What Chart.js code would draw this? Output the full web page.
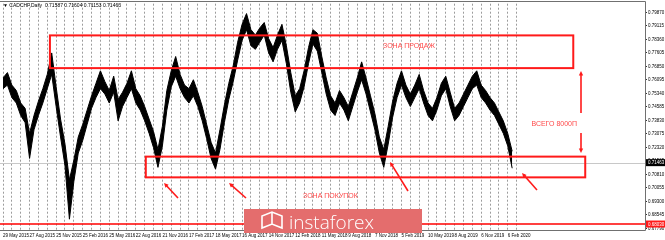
<!DOCTYPE html>
<html>
<head>
<meta charset="utf-8">
<script src="https://cdn.jsdelivr.net/npm/chart.js@4.4.1/dist/chart.umd.min.js"></script>
<style>
  html, body { margin: 0; padding: 0; background: #fff; }
  canvas { display: block; }
</style>
</head>
<body>
<canvas id="chart-1" width="665" height="240"></canvas>
<script>
// CADCHF daily at half-month steps (low / high of the trace)
var lows = [
  0.756,0.758,0.751,0.748,0.741,0.737,0.717,0.733,0.741,0.748,
  0.756,0.764,0.746,0.729,0.713,0.683,0.704,0.720,0.727,0.736,
  0.745,0.751,0.756,0.753,0.748,0.754,0.738,0.746,0.751,0.756,
  0.748,0.744,0.738,0.731,0.723,0.712,0.724,0.744,0.757,0.763,
  0.756,0.751,0.748,0.752,0.746,0.738,0.728,0.717,0.711,0.722,
  0.737,0.750,0.760,0.772,0.783,0.789,0.780,0.778,0.782,0.786,
  0.776,0.771,0.778,0.783,0.770,0.754,0.743,0.748,0.757,0.770,
  0.781,0.777,0.765,0.753,0.744,0.741,0.748,0.744,0.738,0.746,
  0.754,0.761,0.753,0.743,0.733,0.720,0.712,0.725,0.740,0.751,
  0.758,0.751,0.746,0.751,0.756,0.748,0.741,0.738,0.744,0.752,
  0.756,0.746,0.738,0.741,0.746,0.751,0.756,0.758,0.751,0.748,
  0.744,0.741,0.736,0.731,0.724,0.7115
];
var highs = [
  0.762,0.765,0.758,0.755,0.748,0.745,0.731,0.741,0.749,0.756,
  0.764,0.776,0.757,0.739,0.725,0.705,0.716,0.729,0.736,0.744,
  0.752,0.759,0.766,0.760,0.755,0.763,0.750,0.754,0.759,0.766,
  0.756,0.752,0.746,0.739,0.732,0.722,0.735,0.755,0.766,0.774,
  0.764,0.758,0.756,0.761,0.754,0.746,0.736,0.726,0.720,0.733,
  0.747,0.759,0.769,0.782,0.792,0.798,0.789,0.786,0.790,0.793,
  0.784,0.779,0.786,0.792,0.780,0.765,0.752,0.756,0.766,0.779,
  0.789,0.787,0.774,0.762,0.752,0.748,0.755,0.751,0.746,0.754,
  0.762,0.771,0.762,0.752,0.742,0.729,0.722,0.735,0.749,0.759,
  0.766,0.758,0.753,0.758,0.764,0.755,0.748,0.745,0.751,0.759,
  0.763,0.754,0.745,0.748,0.753,0.758,0.763,0.766,0.758,0.755,
  0.751,0.748,0.743,0.738,0.731,0.721
];
var dateTicks = ["29 May 2015","27 Aug 2015","25 Nov 2015","25 Feb 2016","25 May 2016","22 Aug 2016",
  "21 Nov 2016","17 Feb 2017","18 May 2017","16 Aug 2017","14 Nov 2017","12 Feb 2018","11 May 2018",
  "9 Aug 2018","7 Nov 2018","5 Feb 2019","10 May 2019","8 Aug 2019","6 Nov 2019","6 Feb 2020"];
var priceTicks = [0.79870,0.79115,0.78360,0.77605,0.76850,0.76095,0.75340,0.74585,0.73830,
  0.73075,0.72320,0.71565,0.70810,0.70055,0.69300,0.68545,0.67790];
var lastPrice = 0.71463;
var redLevel = 0.68030;
var sellZone = [0.7675, 0.7858];
var buyZone = [0.7064, 0.7180];

// half-month slots, plus empty room on the right like the terminal's chart shift
var periods = [];
var yr = 2015, mo = 5, half = 1;
for (var k = 0; k < 146; k++) {
    periods.push(yr + "-" + (mo < 10 ? "0" : "") + mo + (half ? "b" : "a"));
    if (half) { half = 0; mo++; if (mo > 12) { mo = 1; yr++; } } else { half = 1; }
}

var FONT = "Liberation Sans";

function arrow(c, x1, y1, x2, y2) {
    var a = Math.atan2(y2 - y1, x2 - x1), h = 5;
    c.beginPath();
    c.moveTo(x1, y1);
    c.lineTo(x2 - Math.cos(a) * 2, y2 - Math.sin(a) * 2);
    c.stroke();
    c.beginPath();
    c.moveTo(x2, y2);
    c.lineTo(x2 - h * Math.cos(a - 0.45), y2 - h * Math.sin(a - 0.45));
    c.lineTo(x2 - h * Math.cos(a + 0.45), y2 - h * Math.sin(a + 0.45));
    c.closePath();
    c.fill();
}

function axisBox(c, y, text, bg) {
    c.fillStyle = bg;
    c.fillRect(646, y - 3.5, 19, 7);
    c.fillStyle = "#fff";
    c.font = "4.5px " + FONT;
    c.textAlign = "left";
    c.textBaseline = "middle";
    c.fillText(text, 648, y + 0.3);
}

var overlay = {
    id: "overlay",
    beforeDatasetsDraw: function (chart) {
        var c = chart.ctx, a = chart.chartArea, ys = chart.scales.y;
        var y = Math.round(ys.getPixelForValue(lastPrice)) + 0.5;
        c.save();
        c.strokeStyle = "#c8c8c8";
        c.lineWidth = 1;
        c.beginPath(); c.moveTo(0, y); c.lineTo(a.right, y); c.stroke();
        c.restore();
    },
    afterDatasetsDraw: function (chart) {
        var c = chart.ctx, a = chart.chartArea, xs = chart.scales.x, ys = chart.scales.y;
        c.save();
        // support level
        c.strokeStyle = "#ff0000";
        c.lineWidth = 1.5;
        var yr = ys.getPixelForValue(redLevel);
        c.beginPath(); c.moveTo(0, yr); c.lineTo(a.right, yr); c.stroke();

        // zones
        c.lineWidth = 2;
        c.strokeStyle = "#ff1a1a";
        var x0 = xs.getPixelForValue(10.6), x1 = xs.getPixelForValue(128.8);
        var t = ys.getPixelForValue(sellZone[1]), b = ys.getPixelForValue(sellZone[0]);
        c.strokeRect(x0, t, x1 - x0, b - t);
        x0 = xs.getPixelForValue(32.25); x1 = xs.getPixelForValue(131.5);
        t = ys.getPixelForValue(buyZone[1]); b = ys.getPixelForValue(buyZone[0]);
        c.strokeRect(x0, t, x1 - x0, b - t);

        // arrows
        c.fillStyle = "#ff1a1a";
        c.lineWidth = 1.6;
        arrow(c, 178, 198, 164, 183);
        arrow(c, 246, 198, 229, 183);
        arrow(c, 408, 191, 390, 162);
        arrow(c, 537, 190, 522, 173);
        arrow(c, 581, 113, 581, 71);
        arrow(c, 581, 133, 581, 153);

        // captions
        c.fillStyle = "#ff4a4a";
        c.font = "7px " + FONT;
        c.textBaseline = "middle";
        c.textAlign = "left";
        c.fillText("ЗОНА ПРОДАЖ", 383, 46);
        c.fillText("ЗОНА ПОКУПОК", 303, 196);
        c.textAlign = "right";
        c.fillText("ВСЕГО 8000П", 577, 124);
        c.restore();
    },
    afterDraw: function (chart) {
        var c = chart.ctx, a = chart.chartArea, ys = chart.scales.y;
        c.save();
        // frame
        c.strokeStyle = "#707070";
        c.lineWidth = 1;
        c.beginPath();
        c.moveTo(0, 1.5); c.lineTo(645.5, 1.5); c.lineTo(645.5, 230.5); c.lineTo(0, 230.5);
        c.stroke();

        axisBox(c, ys.getPixelForValue(lastPrice), lastPrice.toFixed(5), "#000");
        axisBox(c, ys.getPixelForValue(redLevel), redLevel.toFixed(5), "#ff1a1a");

        // header
        c.fillStyle = "#000";
        c.font = "5px " + FONT;
        c.textAlign = "left";
        c.textBaseline = "middle";
        c.fillText("\u25BC CADCHF,Daily  0.71587 0.71604 0.71153 0.71463", 3, 6);

        // watermark logo
        c.fillStyle = "#e46d6d";
        c.fillRect(244, 209, 178, 24);
        c.strokeStyle = "#fff";
        c.lineWidth = 1.6;
        c.beginPath();
        c.moveTo(262, 228); c.lineTo(262, 216); c.lineTo(272, 212); c.lineTo(282, 216);
        c.lineTo(282, 228); c.lineTo(272, 224); c.closePath();
        c.moveTo(272, 212); c.lineTo(272, 224);
        c.stroke();
        c.fillStyle = "#fff";
        c.font = "300 19px 'Open Sans'";
        c.textBaseline = "alphabetic";
        c.fillText("instaforex", 289, 229);
        c.restore();
    }
};

var ctx_1 = document.getElementById("chart-1");
var myChart = new Chart(ctx_1, {
    type: "line",
    data: {
        labels: periods,
        datasets: [{
            data: highs,
            borderColor: "#000",
            backgroundColor: "#000",
            borderWidth: 1,
            pointRadius: 0,
            tension: 0,
            fill: "+1"
        }, {
            data: lows,
            borderColor: "#000",
            backgroundColor: "#000",
            borderWidth: 1,
            pointRadius: 0,
            tension: 0,
            fill: false
        }]
    },
    options: {
        responsive: false,
        animation: false,
        devicePixelRatio: 1,
        layout: {
            padding: { left: 2, top: 2, right: 0, bottom: 0 }
        },
        plugins: {
            legend: { display: false },
            tooltip: { enabled: false }
        },
        scales: {
            x: {
                type: "category",
                offset: false,
                afterFit: function (s) { s.height = 10; },
                border: { display: false, dash: [2, 2] },
                grid: {
                    drawTicks: false,
                    lineWidth: 1,
                    color: function (c) {
                        return (c.index % 2 === 0 && c.index <= 116) ? "#9c9c9c" : "rgba(0,0,0,0)";
                    }
                },
                ticks: {
                    autoSkip: false,
                    maxRotation: 0,
                    minRotation: 0,
                    align: "start",
                    padding: 3,
                    color: "#000",
                    font: { family: FONT, size: 4.5 },
                    callback: function (v, i) {
                        return i % 6 === 0 && dateTicks[i / 6] ? dateTicks[i / 6] : "";
                    }
                }
            },
            y: {
                position: "right",
                min: 0.67696,
                max: 0.80353,
                afterFit: function (s) { s.width = 20; },
                afterBuildTicks: function (s) {
                    s.ticks = priceTicks.map(function (v) { return { value: v }; });
                },
                border: { display: false },
                grid: {
                    drawOnChartArea: false,
                    drawTicks: true,
                    tickLength: 2,
                    color: "#333"
                },
                ticks: {
                    padding: 1,
                    color: "#000",
                    font: { family: FONT, size: 4.5 },
                    callback: function (v) { return v.toFixed(5); }
                }
            }
        }
    },
    plugins: [overlay]
});
</script>
</body>
</html>
